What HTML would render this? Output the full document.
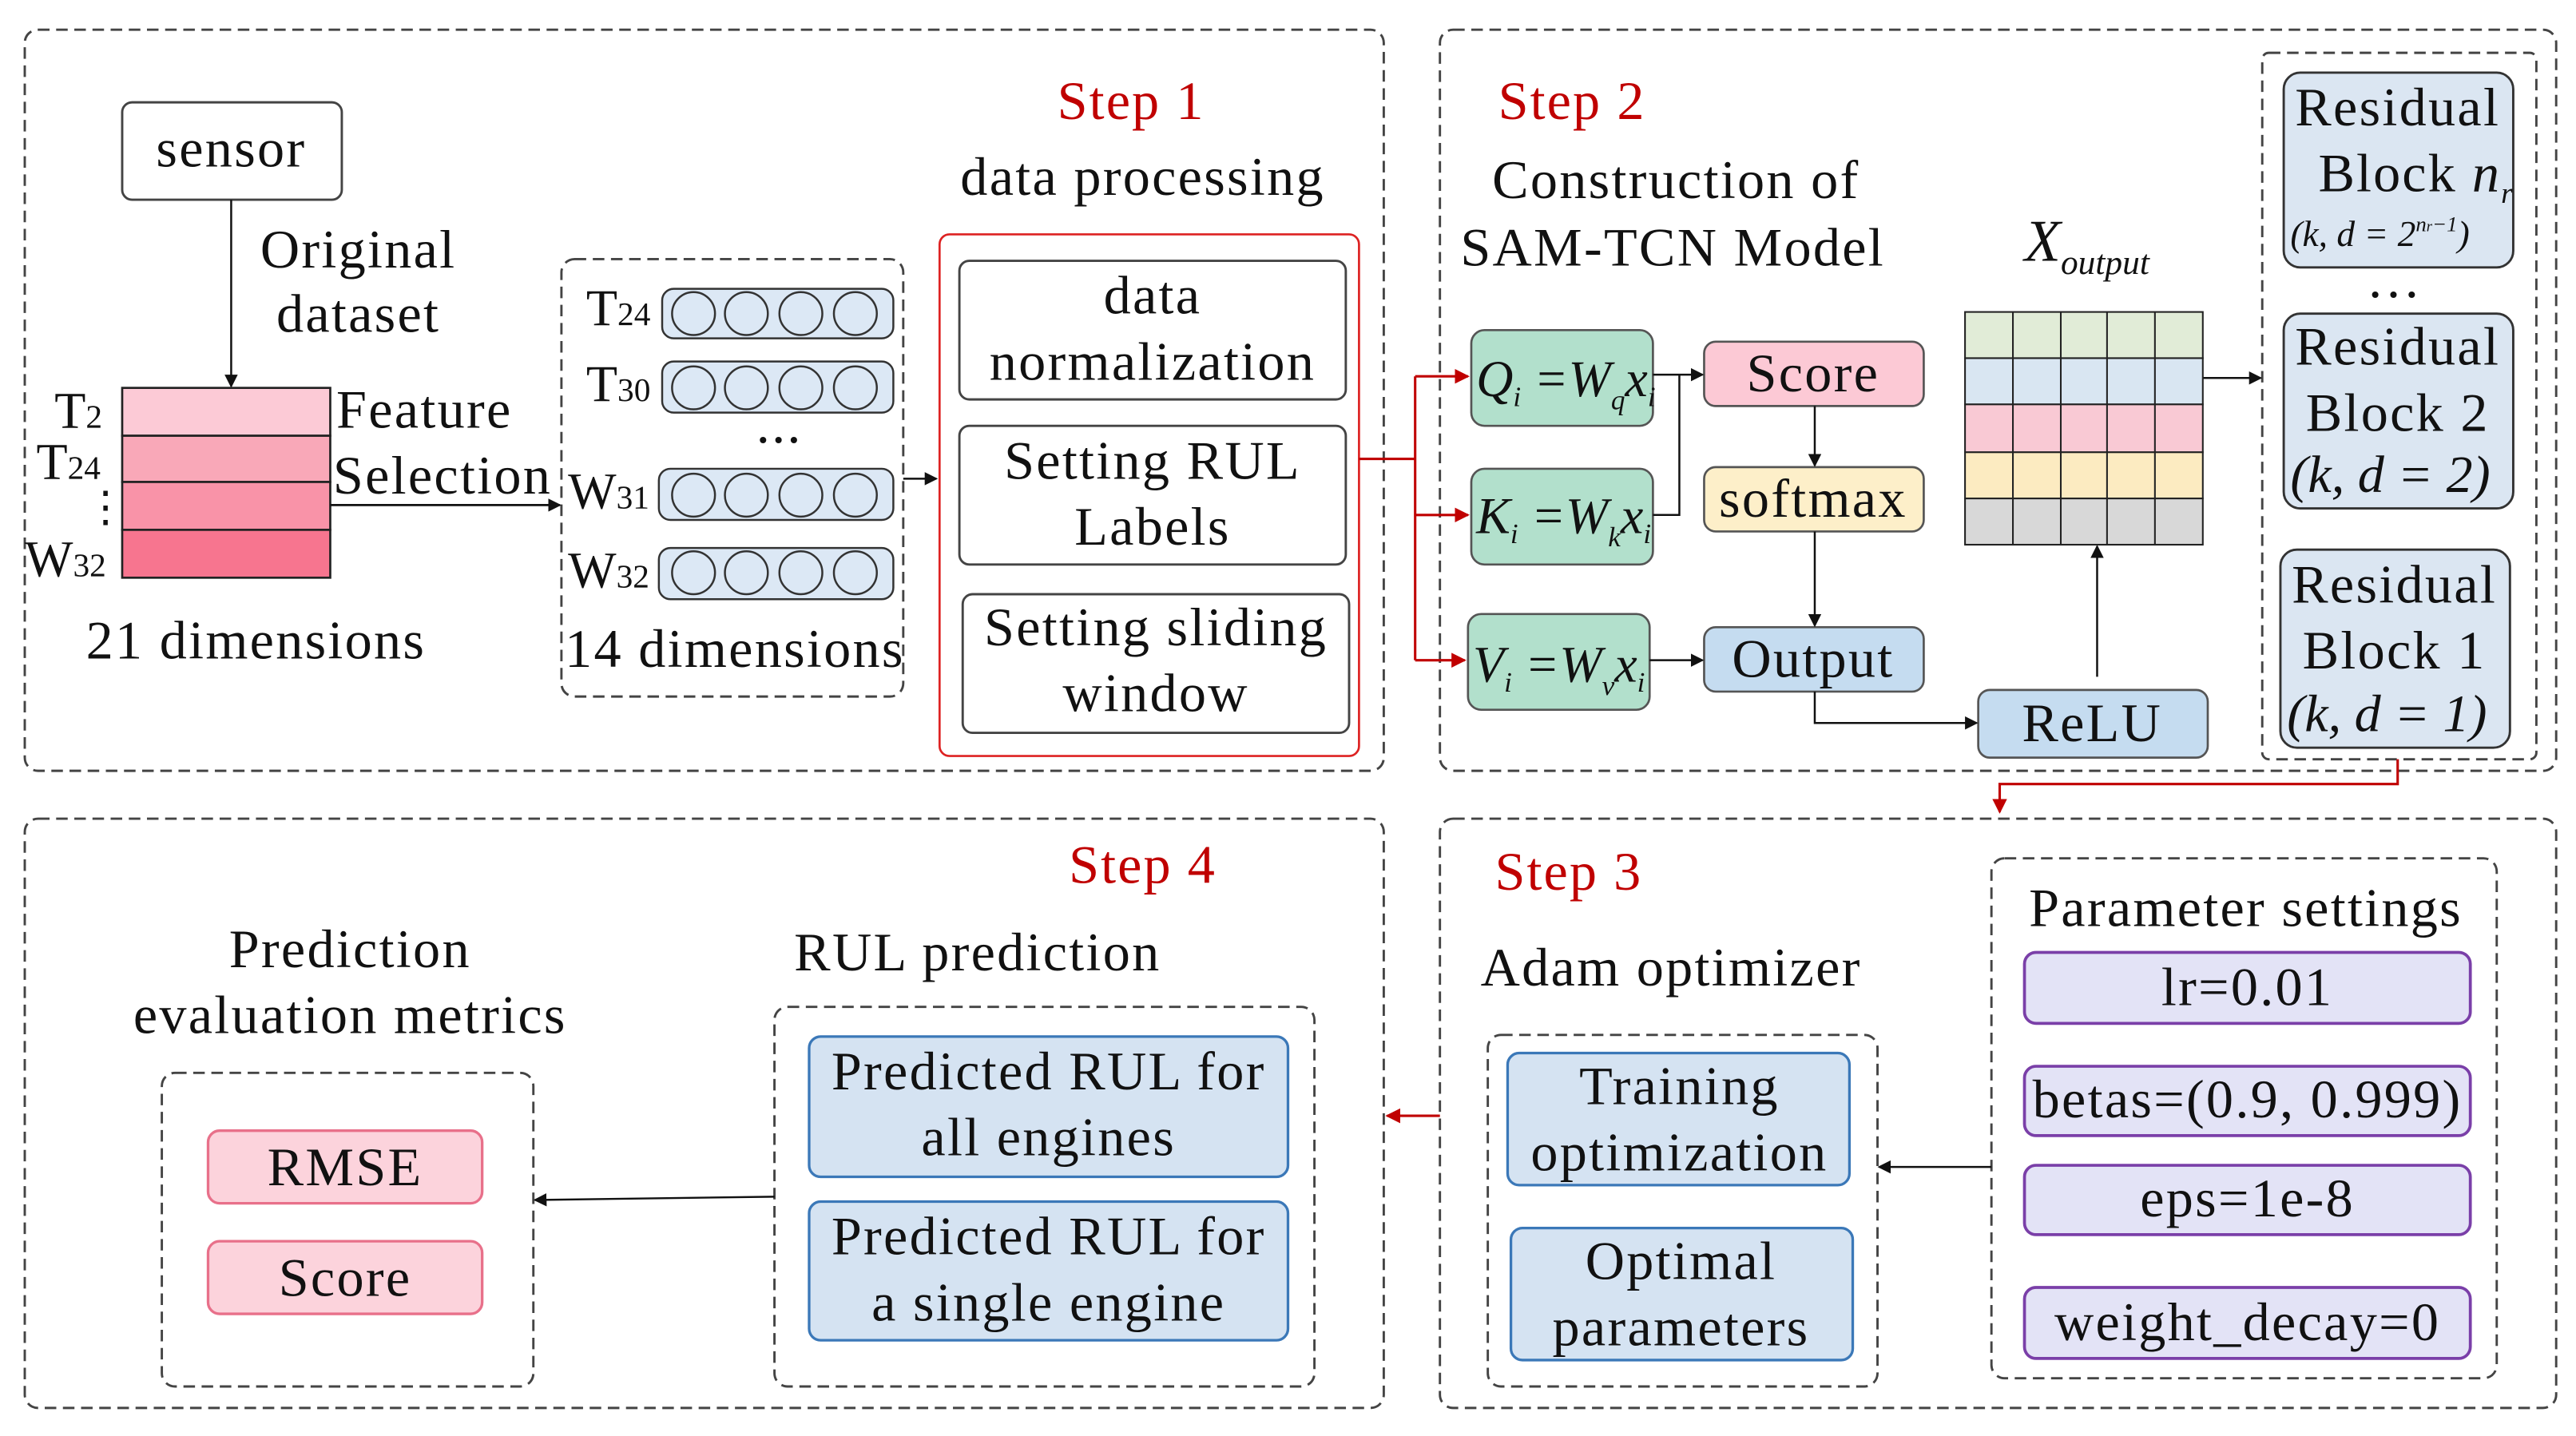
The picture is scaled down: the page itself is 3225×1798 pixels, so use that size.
<!DOCTYPE html>
<html><head><meta charset="utf-8"><style>
html,body{margin:0;padding:0;background:#fff}
svg{display:block}
text{font-family:"Liberation Serif",serif;fill:#111}
.t{font-size:33px;letter-spacing:1.1px;text-anchor:middle}
.r{fill:#c00000;font-size:33px;letter-spacing:1px;text-anchor:middle}
.m{font-style:italic}
</style></head><body>
<svg width="3225" height="1798" viewBox="0 0 1560 870" preserveAspectRatio="none" xmlns="http://www.w3.org/2000/svg">
<defs>
<marker id="a" markerWidth="8" markerHeight="8" refX="7" refY="4" orient="auto" markerUnits="userSpaceOnUse"><path d="M0,0 L8,4 L0,8z" fill="#111"/></marker>
<marker id="ar" markerWidth="9" markerHeight="9" refX="8" refY="4.5" orient="auto" markerUnits="userSpaceOnUse"><path d="M0,0 L9,4.5 L0,9z" fill="#c00000"/></marker>
</defs>
<g fill="none" stroke="#444" stroke-width="1.4" stroke-dasharray="7,4">
<rect x="15" y="18" width="823" height="449" rx="8"/>
<rect x="872" y="18" width="676" height="449" rx="8"/>
<rect x="15" y="496" width="823" height="357" rx="8"/>
<rect x="872" y="496" width="676" height="357" rx="8"/>
<rect x="340" y="157" width="207" height="265" rx="8"/>
<rect x="1370" y="32" width="166" height="428" rx="4"/>
<rect x="901" y="627" width="236" height="213" rx="8"/>
<rect x="1206" y="520" width="306" height="315" rx="8"/>
<rect x="469" y="610" width="327" height="230" rx="8"/>
<rect x="98" y="650" width="225" height="190" rx="8"/>
</g>
<!-- Panel 1 -->
<rect x="74" y="62" width="133" height="59" rx="6" fill="#fff" stroke="#444" stroke-width="1.4"/>
<text class="t" x="140" y="101">sensor</text>
<line x1="140" y1="121" x2="140" y2="234" stroke="#111" stroke-width="1.2" marker-end="url(#a)"/>
<text class="t" x="217" y="162">Original</text>
<text class="t" x="217" y="201">dataset</text>
<g stroke="#222" stroke-width="1.3">
<rect x="74" y="235" width="126" height="29" fill="#fccad6"/>
<rect x="74" y="264" width="126" height="28" fill="#f9a8b8"/>
<rect x="74" y="292" width="126" height="29" fill="#f993a8"/>
<rect x="74" y="321" width="126" height="29" fill="#f7758f"/>
</g>
<text x="33" y="259" style="font-size:31px">T<tspan style="font-size:20px">2</tspan></text>
<text x="22" y="290" style="font-size:31px">T<tspan style="font-size:20px">24</tspan></text>
<text x="51" y="316" style="font-size:26px">⋮</text>
<text x="15" y="349" style="font-size:31px">W<tspan style="font-size:20px">32</tspan></text>
<text class="t" x="257" y="259">Feature</text>
<text class="t" x="268" y="299">Selection</text>
<line x1="200" y1="306" x2="339" y2="306" stroke="#111" stroke-width="1.3" marker-end="url(#a)"/>
<g stroke="#333" stroke-width="1.2">
<rect x="401" y="175" width="140" height="30" rx="7" fill="#dce8f5"/>
<rect x="401" y="219" width="140" height="31" rx="7" fill="#dce8f5"/>
<rect x="399" y="284" width="142" height="31" rx="7" fill="#dce8f5"/>
<rect x="399" y="332" width="142" height="31" rx="7" fill="#dce8f5"/>
<g fill="none">
<ellipse cx="420" cy="190" rx="13" ry="13"/><ellipse cx="452" cy="190" rx="13" ry="13"/><ellipse cx="485" cy="190" rx="13" ry="13"/><ellipse cx="518" cy="190" rx="13" ry="13"/>
<ellipse cx="420" cy="235" rx="13" ry="13"/><ellipse cx="452" cy="235" rx="13" ry="13"/><ellipse cx="485" cy="235" rx="13" ry="13"/><ellipse cx="518" cy="235" rx="13" ry="13"/>
<ellipse cx="420" cy="300" rx="13" ry="13"/><ellipse cx="452" cy="300" rx="13" ry="13"/><ellipse cx="485" cy="300" rx="13" ry="13"/><ellipse cx="518" cy="300" rx="13" ry="13"/>
<ellipse cx="420" cy="347" rx="13" ry="13"/><ellipse cx="452" cy="347" rx="13" ry="13"/><ellipse cx="485" cy="347" rx="13" ry="13"/><ellipse cx="518" cy="347" rx="13" ry="13"/>
</g></g>
<text x="355" y="197" style="font-size:31px">T<tspan style="font-size:20px">24</tspan></text>
<text x="355" y="243" style="font-size:31px">T<tspan style="font-size:20px">30</tspan></text>
<text x="344" y="308" style="font-size:31px">W<tspan style="font-size:20px">31</tspan></text>
<text x="344" y="356" style="font-size:31px">W<tspan style="font-size:20px">32</tspan></text>
<text class="t" x="472" y="268">...</text>
<text class="t" x="445" y="404">14 dimensions</text>
<text class="t" x="155" y="399">21 dimensions</text>
<line x1="547" y1="290" x2="567" y2="290" stroke="#111" stroke-width="1.2" marker-end="url(#a)"/>
<text class="r" x="685" y="72">Step 1</text>
<text class="t" x="692" y="118">data processing</text>
<rect x="569" y="142" width="254" height="316" rx="6" fill="none" stroke="#d22" stroke-width="1.3"/>
<g fill="#fff" stroke="#444" stroke-width="1.4">
<rect x="581" y="158" width="234" height="84" rx="6"/>
<rect x="581" y="258" width="234" height="84" rx="6"/>
<rect x="583" y="360" width="234" height="84" rx="6"/>
</g>
<text class="t" x="698" y="190">data</text><text class="t" x="698" y="230">normalization</text>
<text class="t" x="698" y="290">Setting RUL</text><text class="t" x="698" y="330">Labels</text>
<text class="t" x="700" y="391">Setting sliding</text><text class="t" x="700" y="431">window</text>
<!-- red connectors -->
<g stroke="#c00000" stroke-width="1.5" fill="none">
<polyline points="823,278 857,278"/>
<line x1="857" y1="228" x2="857" y2="400"/>
<line x1="857" y1="228" x2="889" y2="228" marker-end="url(#ar)"/>
<line x1="857" y1="312" x2="889" y2="312" marker-end="url(#ar)"/>
<line x1="857" y1="400" x2="887" y2="400" marker-end="url(#ar)"/>
<polyline points="1452,460 1452,475 1211,475 1211,492" marker-end="url(#ar)"/>
<line x1="872" y1="676" x2="840" y2="676" marker-end="url(#ar)"/>
</g>
<!-- Panel 2 -->
<text class="r" x="952" y="72">Step 2</text>
<text class="t" x="1015" y="120">Construction of</text>
<text class="t" x="1013" y="161">SAM-TCN Model</text>
<g stroke="#555" stroke-width="1.3">
<rect x="891" y="200" width="110" height="58" rx="8" fill="#b2e0cc"/>
<rect x="891" y="284" width="110" height="58" rx="8" fill="#b2e0cc"/>
<rect x="889" y="372" width="110" height="58" rx="8" fill="#b2e0cc"/>
<rect x="1032" y="207" width="133" height="39" rx="7" fill="#fcc9d5"/>
<rect x="1032" y="283" width="133" height="39" rx="7" fill="#fdefc9"/>
<rect x="1032" y="380" width="133" height="39" rx="7" fill="#c5dcf0"/>
<rect x="1198" y="418" width="139" height="41" rx="7" fill="#c5dcf0"/>
</g>
<text x="894" y="240" class="m" style="font-size:31px">Q<tspan style="font-size:17px" dy="6">i</tspan><tspan dy="-6"> =W</tspan><tspan style="font-size:17px" dy="8">q</tspan><tspan dy="-8">x</tspan><tspan style="font-size:17px" dy="6">i</tspan></text>
<text x="894" y="323" class="m" style="font-size:31px">K<tspan style="font-size:17px" dy="6">i</tspan><tspan dy="-6"> =W</tspan><tspan style="font-size:17px" dy="8">k</tspan><tspan dy="-8">x</tspan><tspan style="font-size:17px" dy="6">i</tspan></text>
<text x="892" y="413" class="m" style="font-size:31px">V<tspan style="font-size:17px" dy="6">i</tspan><tspan dy="-6"> =W</tspan><tspan style="font-size:17px" dy="8">v</tspan><tspan dy="-8">x</tspan><tspan style="font-size:17px" dy="6">i</tspan></text>
<text class="t" x="1098" y="237">Score</text>
<text class="t" x="1098" y="313">softmax</text>
<text class="t" x="1098" y="410">Output</text>
<text class="t" x="1267" y="449">ReLU</text>
<g stroke="#111" stroke-width="1.2" fill="none">
<line x1="1001" y1="227" x2="1031" y2="227" marker-end="url(#a)"/>
<polyline points="1001,312 1017,312 1017,227"/>
<line x1="1099" y1="246" x2="1099" y2="282" marker-end="url(#a)"/>
<line x1="1099" y1="322" x2="1099" y2="379" marker-end="url(#a)"/>
<line x1="999" y1="400" x2="1031" y2="400" marker-end="url(#a)"/>
<polyline points="1099,419 1099,438 1197,438" marker-end="url(#a)"/>
<line x1="1270" y1="410" x2="1270" y2="331" marker-end="url(#a)"/>
<line x1="1334" y1="229" x2="1369" y2="229" marker-end="url(#a)"/>
<line x1="1206" y1="707" x2="1138" y2="707" marker-end="url(#a)"/>
<line x1="469" y1="725" x2="324" y2="727" marker-end="url(#a)"/>
</g>
<g stroke="#222" stroke-width="1">
<rect x="1190" y="189" width="144" height="28" fill="#e1ecd7"/>
<rect x="1190" y="217" width="144" height="28" fill="#d9e6f2"/>
<rect x="1190" y="245" width="144" height="29" fill="#f9c9d4"/>
<rect x="1190" y="274" width="144" height="28" fill="#fcebc1"/>
<rect x="1190" y="302" width="144" height="28" fill="#d8d8d8"/>
<line x1="1219" y1="189" x2="1219" y2="330"/><line x1="1248" y1="189" x2="1248" y2="330"/>
<line x1="1276" y1="189" x2="1276" y2="330"/><line x1="1305" y1="189" x2="1305" y2="330"/>
</g>
<text x="1226" y="158" class="m" style="font-size:36px">X<tspan style="font-size:21px" dy="8">output</tspan></text>
<g stroke="#333" stroke-width="1.4" fill="#dbe6f2">
<rect x="1383" y="44" width="139" height="118" rx="10"/>
<rect x="1383" y="190" width="139" height="118" rx="10"/>
<rect x="1381" y="333" width="139" height="120" rx="10"/>
</g>
<text class="t" x="1452" y="76">Residual</text>
<text x="1404" y="116" style="font-size:33px;letter-spacing:1px">Block <tspan class="m">n</tspan><tspan class="m" style="font-size:18px" dy="7">r</tspan></text>
<text x="1387" y="149" class="m" style="font-size:22px">(k, d = 2<tspan style="font-size:13px" dy="-9">n<tspan style="font-size:9px">r</tspan>−1</tspan><tspan dy="9">)</tspan></text>
<text class="t" x="1450" y="180">…</text>
<text class="t" x="1452" y="221">Residual</text>
<text class="t" x="1452" y="261">Block 2</text>
<text x="1387" y="298" class="m" style="font-size:32px">(k, d = 2)</text>
<text class="t" x="1450" y="365">Residual</text>
<text class="t" x="1450" y="405">Block 1</text>
<text x="1385" y="443" class="m" style="font-size:32px">(k, d = 1)</text>
<!-- Panel 3 -->
<text class="r" x="950" y="539">Step 3</text>
<text class="t" x="1012" y="597">Adam optimizer</text>
<g stroke="#3b78b8" stroke-width="1.6" fill="#d5e3f2">
<rect x="913" y="638" width="207" height="80" rx="7"/>
<rect x="915" y="744" width="207" height="80" rx="7"/>
<rect x="490" y="628" width="290" height="85" rx="7"/>
<rect x="490" y="728" width="290" height="84" rx="7"/>
</g>
<text class="t" x="1017" y="669">Training</text><text class="t" x="1017" y="709">optimization</text>
<text class="t" x="1018" y="775">Optimal</text><text class="t" x="1018" y="815">parameters</text>
<text class="t" x="1360" y="561">Parameter settings</text>
<g stroke="#7a3fa8" stroke-width="1.8" fill="#e3e3f6">
<rect x="1226" y="577" width="270" height="43" rx="7"/>
<rect x="1226" y="646" width="270" height="42" rx="7"/>
<rect x="1226" y="706" width="270" height="42" rx="7"/>
<rect x="1226" y="780" width="270" height="43" rx="7"/>
</g>
<text class="t" x="1361" y="609">lr=0.01</text>
<text class="t" x="1361" y="677">betas=(0.9, 0.999)</text>
<text class="t" x="1361" y="737">eps=1e-8</text>
<text class="t" x="1361" y="812">weight_decay=0</text>
<!-- Panel 4 -->
<text class="r" x="692" y="535">Step 4</text>
<text class="t" x="592" y="588">RUL prediction</text>
<text class="t" x="635" y="660">Predicted RUL for</text><text class="t" x="635" y="700">all engines</text>
<text class="t" x="635" y="760">Predicted RUL for</text><text class="t" x="635" y="800">a single engine</text>
<text class="t" x="212" y="586">Prediction</text>
<text class="t" x="212" y="626">evaluation metrics</text>
<g stroke="#e8708a" stroke-width="1.6" fill="#fcd3dc">
<rect x="126" y="685" width="166" height="44" rx="7"/>
<rect x="126" y="752" width="166" height="44" rx="7"/>
</g>
<text class="t" x="209" y="718">RMSE</text>
<text class="t" x="209" y="785">Score</text>
</svg>
</body></html>
